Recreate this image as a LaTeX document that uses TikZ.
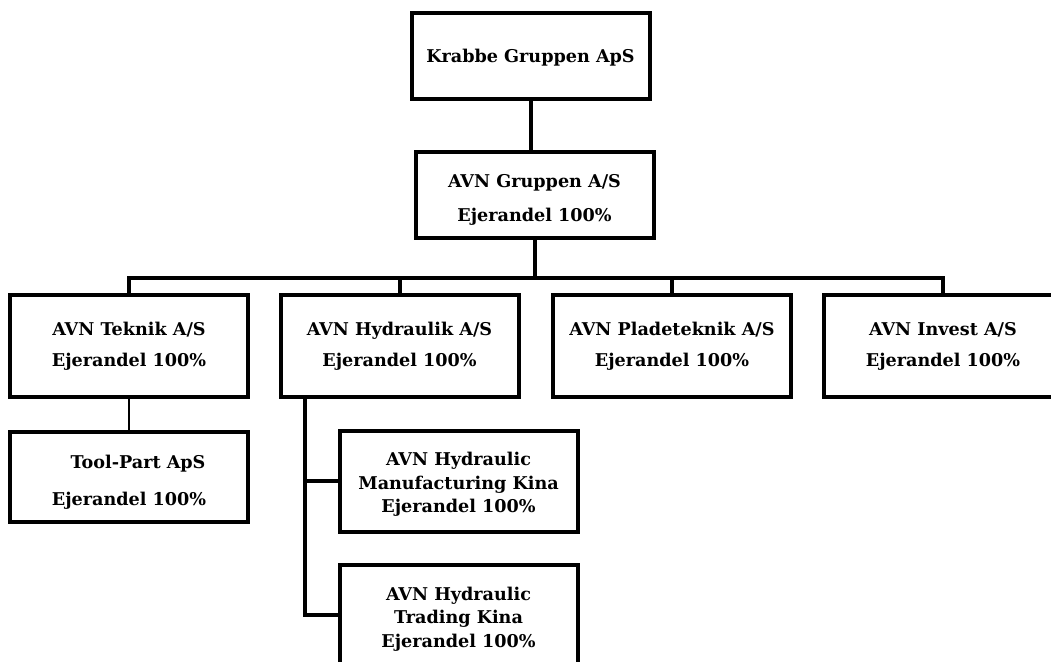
\documentclass[tikz,border=0pt]{standalone}
\usepackage{fontspec}
\setmainfont{DejaVu Serif}
\usetikzlibrary{positioning}

\begin{document}
\begin{tikzpicture}[x=0.5pt,y=-0.5pt,
  firma/.style={draw,line width=2pt,align=center,inner sep=0pt,
    font=\fontsize{8.8}{11.75}\selectfont\bfseries,
    minimum width=119pt,minimum height=51pt},
  link/.style={line width=2pt},
  thinlink/.style={line width=0.7pt}]
\path[use as bounding box] (0,0) rectangle (1051,662);
\clip (0,0) rectangle (1051,662);

\node[firma,minimum height=43pt] (krabbe) at (530.5,56) {\rule{0pt}{8.7pt}Krabbe Gruppen ApS};
\node[firma,minimum height=43pt] (gruppen) at (534.5,195) {\rule{0pt}{11pt}AVN Gruppen A/S\\[5.25pt]Ejerandel 100\%};

\node[firma] (teknik) at (129,346) {AVN Teknik A/S\\[3.75pt]Ejerandel 100\%};
\node[firma] (hydraulik) at (399.5,346) {AVN Hydraulik A/S\\[3.75pt]Ejerandel 100\%};
\node[firma] (plade) at (672,346.5) {AVN Pladeteknik A/S\\[3.75pt]Ejerandel 100\%};
\node[firma] (invest) at (943,346) {AVN Invest A/S\\[3.75pt]Ejerandel 100\%};

\node[firma,minimum height=45pt] (toolpart) at (129,477) {\rule{0pt}{11.5pt}\hspace*{9pt}Tool-Part ApS\\[6.75pt]Ejerandel 100\%};
\node[firma,minimum height=50.5pt] (manuf) at (458.5,481.5) {\rule{0pt}{9.5pt}AVN Hydraulic\\Manufacturing Kina\\Ejerandel 100\%};
\node[firma,minimum height=54pt] (trading) at (458.5,619) {AVN Hydraulic\\Trading Kina\\Ejerandel 100\%};

\coordinate (bus) at (535,278);
\coordinate (hy) at (305,397);

\draw[link] (krabbe.south) -- (krabbe.south |- gruppen.north);
\draw[link] (gruppen.south) -- (gruppen.south |- bus);
\draw[link] (teknik.north) -- (teknik.north |- bus) -- (invest.north |- bus) -- (invest.north);
\draw[link] (hydraulik.north) -- (hydraulik.north |- bus);
\draw[link] (plade.north) -- (plade.north |- bus);

\draw[thinlink] (teknik.south) -- (toolpart.north);

\draw[link] (hy) |- (manuf.west);
\draw[link] (hy) |- ([yshift=2pt]trading.west);

\end{tikzpicture}
\end{document}
